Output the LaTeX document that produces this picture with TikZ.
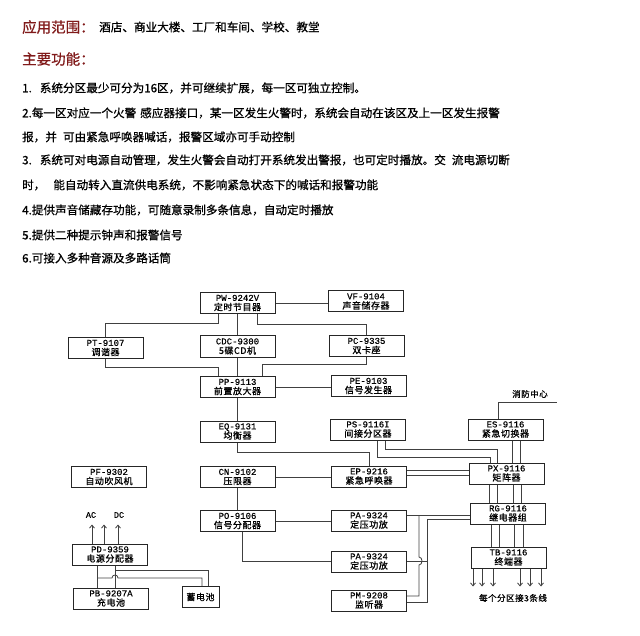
\documentclass[tikz,border=0pt]{standalone}
\usepackage{fontspec}
\newfontfamily\cjk[FakeBold=0.8]{Noto Sans CJK SC}
\newfontfamily\cjkbox[FakeBold=1, LetterSpace=6]{Noto Sans CJK SC}
\newfontfamily\mono[FakeBold=0.6]{Liberation Mono}
\usepackage{xcolor}
\usetikzlibrary{positioning, arrows.meta}

\definecolor{titlered}{RGB}{128,26,26}
\tikzset{
  unit/.style={draw=black!85, line width=1pt, minimum width=75pt, minimum height=21pt,
    inner sep=0pt, align=center, font=\cjkbox\fontsize{9}{9.5}\selectfont},
  wire/.style={draw=black!75, line width=0.8pt},
  heading/.style={anchor=west, inner sep=0pt, text=titlered, font=\cjk\fontsize{14.5}{16}\selectfont},
  bodytext/.style={anchor=west, inner sep=0pt, font=\cjk\fontsize{11.6}{14}\selectfont},
  tag/.style={inner sep=0pt, font=\cjkbox\fontsize{8.5}{10}\selectfont},
  feed/.style={wire, -{Straight Barb[length=3pt, width=5pt]}},
}

\begin{document}
\begin{tikzpicture}[x=1pt, y=-1pt]
  \useasboundingbox (0,0) rectangle (640,636);
  % application and feature list
  \node[heading] (scope) at (22,27) {应用范围：};
  \node[bodytext] (venues) at (99,27) {酒店、商业大楼、工厂和车间、学校、教堂};
  \node[heading] (features) at (22,59) {主要功能：};
  \node[bodytext] (f1) at (22,88) {1.\hspace{8pt}系统分区最少可分为16区，并可继续扩展，每一区可独立控制。};
  \node[bodytext] (f2) at (22,113) {2.每一区对应一个火警\hspace{4pt}感应器接口，某一区发生火警时，系统会自动在该区及上一区发生报警};
  \node[bodytext] (f2b) at (22,137) {报，并\hspace{6pt}可由紧急呼唤器喊话，报警区域亦可手动控制};
  \node[bodytext] (f3) at (22,160) {3.\hspace{8pt}系统可对电源自动管理，发生火警会自动打开系统发出警报，也可定时播放。交\hspace{6pt}流电源切断};
  \node[bodytext] (f3b) at (22,185) {时，\hspace{8pt}能自动转入直流供电系统，不影响紧急状态下的喊话和报警功能};
  \node[bodytext] (f4) at (22,210) {4.提供声音储藏存功能，可随意录制多条信息，自动定时播放};
  \node[bodytext] (f5) at (22,235) {5.提供二种提示钟声和报警信号};
  \node[bodytext] (f6) at (22,258) {6.可接入多种音源及多路话筒};

  % units
  \node[unit] (pw) at (237.5,303) {{\mono PW-9242V}\\定时节目器};
  \node[unit] (vf) at (366,301.5) {{\mono VF-9104}\\声音储存器};
  \node[unit] (pt) at (105.5,348) {{\mono PT-9107}\\调谐器};
  \node[unit] (cdc) at (237.5,346.5) {{\mono CDC-9300}\\5碟CD机};
  \node[unit] (pc) at (366.5,346) {{\mono PC-9335}\\双卡座};
  \node[unit] (pp) at (237.5,387) {{\mono PP-9113}\\前置放大器};
  \node[unit] (pe) at (368.5,386) {{\mono PE-9103}\\信号发生器};
  \node[unit] (eq) at (237.5,431.5) {{\mono EQ-9131}\\均衡器};
  \node[unit] (ps) at (368,429.5) {{\mono PS-9116I}\\间接分区器};
  \node[unit] (es) at (505.5,429.5) {{\mono ES-9116}\\紧急切换器};
  \node[unit] (pf) at (109,477) {{\mono PF-9302}\\自动吹风机};
  \node[unit] (cn) at (237.5,477) {{\mono CN-9102}\\压限器};
  \node[unit] (ep) at (369,476.5) {{\mono EP-9216}\\紧急呼唤器};
  \node[unit] (px) at (506.5,473.5) {{\mono PX-9116}\\矩阵器};
  \node[unit] (po) at (237.5,521) {{\mono PO-9106}\\信号分配器};
  \node[unit] (pa1) at (369,520.5) {{\mono PA-9324}\\定压功放};
  \node[unit] (rg) at (508,513.5) {{\mono RG-9116}\\继电器组};
  \node[unit] (pd) at (110,554.5) {{\mono PD-9359}\\电源分配器};
  \node[unit] (tb) at (508.5,557.5) {{\mono TB-9116}\\终端器};
  \node[unit] (pa2) at (369,561.5) {{\mono PA-9324}\\定压功放};
  \node[unit] (pb) at (111,598.5) {{\mono PB-9207A}\\充电池};
  \node[unit, minimum width=37pt] (bat) at (200.5,597) {蓄电池};
  \node[unit] (pm) at (369,600.5) {{\mono PM-9208}\\监听器};

  % sources into the preamp
  \draw[wire] (pw.east) -- (pw.east -| vf.west);
  \draw[wire] (218,0 |- pw.south) -- ++(0,9) -| (pt.north);
  \draw[wire] (pw) -- (cdc);
  \draw[wire] (257,0 |- pw.south) -- ++(0,10) -| (pc.north);
  \draw[wire] (pt.south) |- (218,367) -- (218,0 |- pp.north);
  \draw[wire] (cdc) -- (pp);
  \draw[wire] (pc.south) |- (262,364) -- (262,0 |- pp.north);
  \draw[wire] (pp.east) -- (pp.east -| pe.west);
  % main chain
  \draw[wire] (pp) -- (eq);
  \draw[wire] (eq.south) -- ++(0,10) -| (ep.north);
  \draw[wire] (cn.east) -- (cn.east -| ep.west);
  \draw[wire] (cn) -- (po);
  \draw[wire] (po.east) -- (po.east -| pa1.west);
  \draw[wire] (242,0 |- po.south) |- (pa2.west);
  % matrix side
  \draw[wire] (377,0 |- ps.south) -- ++(0,17) -| (490,0 |- px.north);
  \draw[wire] (385,0 |- ps.south) -- ++(0,9) -| (497,0 |- px.north);
  \foreach \y in {470,475} \draw[wire] (ep.east |- 0,\y) -- (px.west |- 0,\y);
  \foreach \x in {512,520} \draw[wire] (\x,0 |- es.south) -- (\x,0 |- px.north);
  \coordinate (firelink) at (557,402);
  \draw[wire] (498,0 |- es.north) |- (firelink);
  \node[tag] (fire) at (530,394) {消防中心};
  \foreach \x in {489,497,513,521} \draw[wire] (\x,0 |- px.south) -- (\x,0 |- rg.north);
  \foreach \x in {491,499,514,523} \draw[wire] (\x,0 |- rg.south) -- (\x,0 |- tb.north);
  \foreach \x in {473,482,493,520,530,541} \draw[feed] (\x,0 |- tb.south) -- ++(0,18);
  \node[tag] (zones) at (513,598) {每个分区接3条线};
  % amplifiers onto the relay group
  \draw[wire] (pa1.east |- 0,515) -- (rg.west |- 0,515);
  \draw[wire] (pm.east |- 0,596) -| (419,565) .. controls (423,565) and (423,557) .. (419,557) -- (419,515);
  \draw[wire] (pm.east |- 0,602) -| (427,519) -- (rg.west |- 0,519);
  \draw[wire] (pa2.east) -- (427,0 |- pa2.east);
  % power supply
  \foreach \x in {92,104,118} \draw[feed] (\x,0 |- pd.north) -- ++(0,-19);
  \node[tag] (ac) at (91,515) {\mono AC};
  \node[tag] (dc) at (119,515) {\mono DC};
  \foreach \x in {97,115} \draw[wire] (\x,0 |- pd.south) -- (\x,0 |- pb.north);
  \draw[wire] (115,570) -| (208,0 |- bat.north);
  \draw[wire] (97,578) -- (112,578) .. controls (112,574) and (118,574) .. (118,578) -| (202,0 |- bat.north);
\end{tikzpicture}
\end{document}
